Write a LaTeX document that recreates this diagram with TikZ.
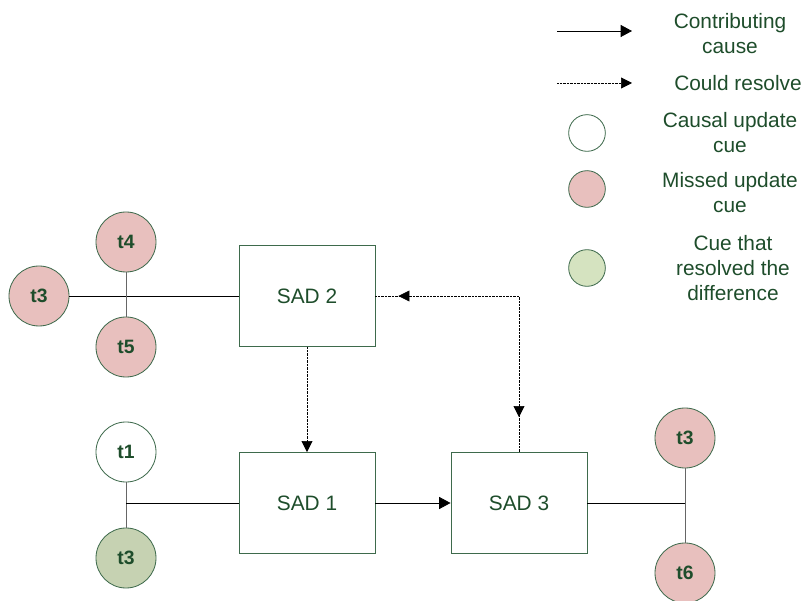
\documentclass[tikz,border=0pt]{standalone}
\usepackage{fontspec}
\setmainfont{Liberation Sans}
\usepackage{tikz}
\usetikzlibrary{positioning,arrows.meta,decorations.markings}
\definecolor{inkgreen}{HTML}{1E4D2B}
\definecolor{edgegreen}{HTML}{3E6A4C}
\definecolor{missedpink}{HTML}{E8C0BE}
\definecolor{resolvedgreen}{HTML}{C6D2B2}
\definecolor{keygreen}{HTML}{D5E3C0}
\tikzset{sadbox/.style={rectangle, draw=edgegreen, line width=0.8pt, minimum width=4.08cm, minimum height=3.03cm, text=inkgreen, font=\fontsize{17.8}{21}\selectfont},
  cue/.style={circle, draw=edgegreen, line width=0.7pt, minimum size=1.8cm, inner sep=0pt, text=inkgreen, font=\bfseries\fontsize{16.5}{19}\selectfont},
  keycue/.style={circle, draw=edgegreen, line width=0.7pt, minimum size=1.1cm, inner sep=0pt},
  keytext/.style={text=inkgreen, align=center, font=\fontsize{17.8}{21.3}\selectfont},
  tie/.style={line width=0.7pt, black},
  stem/.style={line width=0.8pt, black!60},
  cause/.style={line width=0.7pt, -{Triangle[length=3.4mm,width=3.6mm]}},
  resolve/.style={line width=0.6pt, dash pattern=on 0.6pt off 0.6pt},}

\begin{document}
\begin{tikzpicture}[x=0.03cm,y=-0.03cm]
\useasboundingbox (0,0) rectangle (806,601);
% boxes
\node [sadbox] (sad2) at (307,296) {SAD 2};
\node [sadbox] (sad1) at (307,503) {SAD 1};
\node [sadbox] (sad3) at (519,503) {SAD 3};
% cues
\node [cue, fill=missedpink] (t4) at (126,242) {t4};
\node [cue, fill=missedpink] (t5) at (126,347) {t5};
\node [cue, fill=missedpink] (t3a) at (39,296) {t3};
\node [cue, fill=white] (t1) at (126,452) {t1};
\node [cue, fill=resolvedgreen] (t3b) at (126,558) {t3};
\node [cue, fill=missedpink] (t3c) at (685,438) {t3};
\node [cue, fill=missedpink] (t6) at (685,573) {t6};

\draw[tie] (t3a) -- (sad2);
\draw[stem] (t4) -- (t5);
\draw[stem] (t1) -- (t3b);
\draw[tie] (sad1.west) -- (sad1.west -| t1);
\draw[stem] (t3c) -- (t6);
\draw[tie] (sad3.east) -- (sad3.east -| t3c);

\draw[cause] (sad1) -- (sad3);
\draw[resolve, -{Triangle[length=3.3mm,width=3.3mm]}] (sad2) -- (sad1);
\draw[resolve, postaction={decorate}, decoration={markings,
    mark=at position 1.05cm with {\arrowreversed[line width=0.6pt]{Triangle[length=3.3mm,width=3.3mm]}},
    mark=at position -0.69cm with {\arrow[line width=0.6pt]{Triangle[length=3.3mm,width=3.3mm]}}}]
  (sad3.north) |- (sad2.east);

% legend
\coordinate (k1a) at (557,31);
\coordinate (k1b) at (632,31);
\coordinate (k2a) at (557,83);
\coordinate (k2b) at (632,83);
\draw[cause] (k1a) -- (k1b);
\draw[resolve, -{Triangle[length=3.3mm,width=3.3mm]}] (k2a) -- (k2b);
\node [keytext] (k1) at (730,34) {Contributing\\cause};
\node [keytext] (k2) at (738,83) {Could resolve};
\node [keycue, fill=white] (c1) at (587,133) {};
\node [keytext] (k3) at (730,133) {Causal update\\cue};
\node [keycue, fill=missedpink] (c2) at (587,189) {};
\node [keytext] (k4) at (730,193) {Missed update\\cue};
\node [keycue, fill=keygreen] (c3) at (587,268) {};
\node [keytext] (k5) at (733,268) {Cue that\\resolved the\\difference};
\end{tikzpicture}
\end{document}
